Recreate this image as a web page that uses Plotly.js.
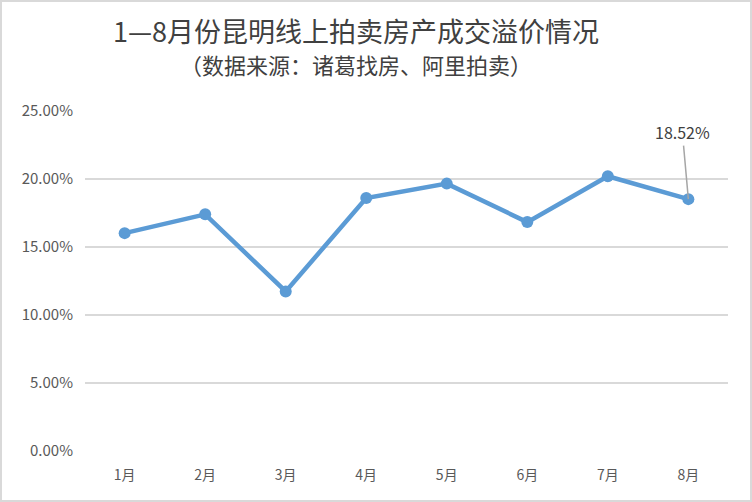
<!DOCTYPE html>
<html>
<head>
<meta charset="utf-8">
<script src="https://cdn.plot.ly/plotly-3.0.1.min.js"></script>
<style>
  html, body { margin: 0; padding: 0; background: #fff; }
  #wrap { position: relative; width: 752px; height: 502px; }
  #chart { width: 752px; height: 502px; }
  #frame { position: absolute; left: 0; top: 0; width: 752px; height: 502px; box-sizing: border-box; border: 2px solid #d9d9d9; pointer-events: none; }
</style>
</head>
<body>
<div id="wrap"><div id="chart"></div><div id="frame"></div></div>
<script>
const months = ["1月", "2月", "3月", "4月", "5月", "6月", "7月", "8月"];
const premium = [16.02, 17.40, 11.73, 18.60, 19.66, 16.83, 20.20, 18.52];
const yTickVals = [0, 5, 10, 15, 20, 25];
const yTickText = ["0.00%", "5.00%", "10.00%", "15.00%", "20.00%", "25.00%"];
const titleText = "1—8月份昆明线上拍卖房产成交溢价情况";
const subtitleText = "（数据来源：诸葛找房、阿里拍卖）";
const labelIndex = 7;
const labelText = "18.52%";

const FONT = '"Noto Sans CJK SC", "Noto Sans", sans-serif';

const trace = {
  type: "scatter",
  mode: "lines+markers",
  x: months,
  y: premium,
  line: { color: "#5b9bd5", width: 4.5 },
  marker: { color: "#5b9bd5", size: 12 },
  hoverinfo: "x+y"
};

const layout = {
  width: 752,
  height: 502,
  paper_bgcolor: "#ffffff",
  plot_bgcolor: "#ffffff",
  margin: { l: 85, r: 24, t: 111, b: 51 },
  showlegend: false,
  font: { family: FONT, color: "#595959" },
  title: {
    text: titleText,
    font: { family: FONT, size: 27, color: "#404040" },
    xref: "container", yref: "container",
    x: 356 / 752, xanchor: "center",
    y: 1 - 33 / 502, yanchor: "middle"
  },
  xaxis: {
    type: "category",
    showgrid: false,
    zeroline: false,
    showline: false,
    ticks: "",
    tickfont: { family: FONT, size: 14, color: "#595959" },
    ticklabelstandoff: 14
  },
  yaxis: {
    range: [0, 25],
    tickvals: yTickVals,
    ticktext: yTickText,
    showgrid: true,
    gridcolor: "#d9d9d9",
    gridwidth: 1.5,
    zeroline: false,
    showline: false,
    ticks: "",
    tickfont: { family: FONT, size: 15, color: "#595959" },
    ticklabelstandoff: 11,
    fixedrange: true
  },
  annotations: [
    {
      text: subtitleText,
      xref: "paper", yref: "paper",
      x: (356 - 85) / 643, xanchor: "center",
      y: 1 + (111 - 64) / 340, yanchor: "middle",
      showarrow: false,
      font: { family: FONT, size: 22, color: "#404040" }
    },
    {
      x: months[labelIndex],
      y: premium[labelIndex],
      xref: "x", yref: "y",
      text: labelText,
      showarrow: true,
      arrowhead: 0,
      arrowwidth: 1.5,
      arrowcolor: "#a6a6a6",
      ax: -6,
      ay: -67,
      standoff: 0,
      font: { family: FONT, size: 16, color: "#404040" }
    }
  ]
};

Plotly.newPlot("chart", [trace], layout, { displayModeBar: false });
</script>
</body>
</html>
